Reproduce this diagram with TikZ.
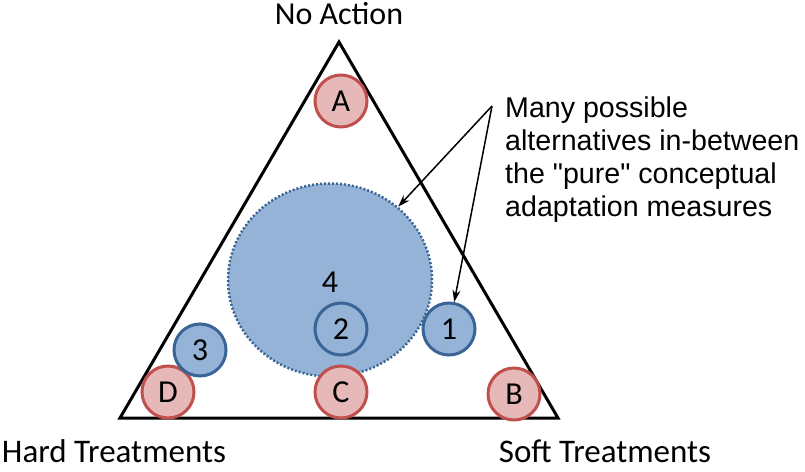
\documentclass[tikz,border=0pt]{standalone}
\usepackage{fontspec}
\setmainfont{Carlito}
\newfontfamily\arialfont{Liberation Sans}
\usetikzlibrary{arrows.meta,shapes.geometric}
\definecolor{redfill}{HTML}{E6B8B7}
\definecolor{redline}{HTML}{C0504D}
\definecolor{bluefill}{HTML}{95B3D7}
\definecolor{blueline}{HTML}{3A6495}
\tikzset{
  redc/.style={circle,draw=redline,fill=redfill,line width=3pt,minimum size=52pt,inner sep=0pt,font=\fontsize{32}{32}\selectfont},
  bluec/.style={circle,draw=blueline,fill=bluefill,line width=3pt,minimum size=52pt,inner sep=0pt,font=\fontsize{32}{32}\selectfont},
  corner/.style={font=\fontsize{33}{33}\selectfont,inner sep=0pt,anchor=base,text depth=0pt},
  arr/.style={-{Stealth[length=12pt,width=8pt]},line width=1.5pt},
}
\begin{document}
\begin{tikzpicture}[x=1pt,y=-1pt]
\useasboundingbox (0,0) rectangle (805,471);
% big circle 4
\node[ellipse,draw=blueline,fill=bluefill,line width=2.5pt,dash pattern=on 2pt off 2pt,
  minimum width=204pt,minimum height=193pt,inner sep=0pt] (c4) at (330,280) {};
\node[font=\fontsize{32}{32}\selectfont,inner sep=0pt] (l4) at (330,282) {4};
% triangle
\coordinate (t1) at (339,42);
\coordinate (t2) at (120,418);
\coordinate (t3) at (558,418);
\draw[line width=3pt,line join=miter] (t1) -- (t2) -- (t3) -- cycle;
% circles
\node[redc] (nA) at (341,101) {A};
\node[redc] (nD) at (168,392) {D};
\node[redc] (nC) at (341,392) {C};
\node[redc] (nB) at (514,394) {B};
\node[bluec] (n3) at (200,350) {3};
\node[bluec] (n2) at (341,329) {2};
\node[bluec] (n1) at (449,329) {1};
% corner labels
\node[corner,font=\fontsize{32}{32}\selectfont] (na) at (339,24) {No Action};
\node[corner] (ht) at (114,462) {Hard Treatments};
\node[corner] (st) at (605,462) {Soft Treatments};
% annotation
\node[anchor=north west,inner sep=0pt,align=left,font=\arialfont\fontsize{28.6}{33}\selectfont] (txt) at (505,97)
  {Many possible\\alternatives in-between\\the "pure" conceptual\\adaptation measures};
\coordinate (v) at (492,106);
\draw[arr] (v) -- (c4);
\draw[arr] (v) -- (n1);
\end{tikzpicture}
\end{document}
